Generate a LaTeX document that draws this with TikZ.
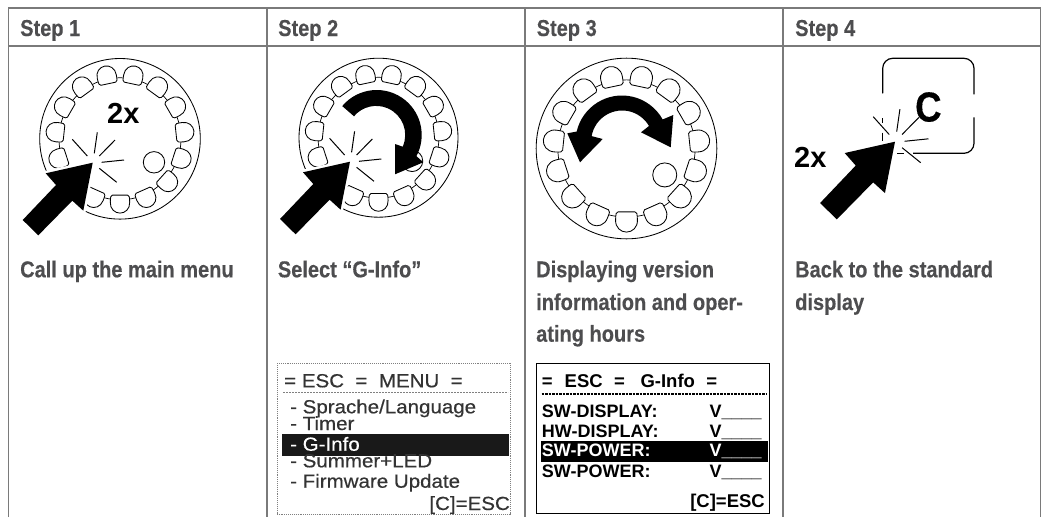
\documentclass[tikz,border=0pt]{standalone}
\usepackage{fontspec}
\setmainfont{Liberation Sans}
\newfontfamily\condfont[FakeStretch=0.87,FakeBold=0.3]{Liberation Sans}
\newfontfamily\widefont[FakeStretch=1.08,FakeBold=0.5]{Liberation Sans}
\definecolor{gridgray}{HTML}{7A7A7A}
\definecolor{headgray}{HTML}{4D4D4F}
\definecolor{menugray}{HTML}{333333}
\tikzset{
  gridline/.style={draw=gridgray,line width=1.3pt},
  heading/.style={anchor=base west,inner sep=0pt,text=headgray,font=\condfont\bfseries\fontsize{23}{25}\selectfont},
  bignum/.style={anchor=base west,inner sep=0pt,text=black,font=\bfseries\fontsize{29}{31}\selectfont},
  menutext/.style={anchor=base west,inner sep=0pt,text=menugray,font=\widefont\fontsize{19}{21}\selectfont},
  infotext/.style={anchor=base west,inner sep=0pt,text=black,font=\bfseries\fontsize{18}{20}\selectfont},
  dialline/.style={draw=black,line width=.85pt},
  raystyle/.style={draw=black,line width=1pt},
}
\newcommand{\dialface}[3]{%
  \begin{scope}[shift={(#1,#2)},scale=#3]
    \draw[dialline] (0,0) circle[radius=80.3];
    \draw[draw=black,line width=.7pt] (0,0) circle[radius=61];
    \foreach \a in {282,306,330,354,18,42,66,90,114,138,162,186,210,234,258}{
      \begin{scope}[shift={(\a:65.3)},rotate={90-\a}]
        \draw[dialline,fill=white] (-7.5,-9) -- (7.5,-9)
          .. controls (9.5,-9) and (9.4,-7) .. (9.7,-2)
          .. controls (10.1,5) and (5,9) .. (0,9)
          .. controls (-5,9) and (-10.1,5) .. (-9.7,-2)
          .. controls (-9.4,-7) and (-9.5,-9) .. (-7.5,-9) -- cycle;
      \end{scope}
    }
    \draw[dialline,fill=white] (34,23.5) circle[radius=10.7];
  \end{scope}}
\newcommand{\clickmark}[3]{%
  \begin{scope}[shift={(#1,#2)},scale=#3]
    \draw[raystyle] (4.6,-30.4) -- (1.6,-9.4);
    \draw[raystyle] (22.3,-22.7) -- (6.6,-6.7);
    \draw[raystyle] (31.3,-2.7) -- (9,-.4);
    \draw[raystyle] (24,19.6) -- (6.6,5.6);
    \draw[raystyle] (-20.4,-23.4) -- (-5.4,-6.7);
    \draw[draw=white,line width=5pt,line join=miter,fill=white] (0,0) -- (-47,10.6) -- (-36.7,22.3) -- (-70,57.3) -- (-54.4,72.6) -- (-20.4,38) -- (-9.4,48) -- cycle;
    \fill[black] (0,0) -- (-47,10.6) -- (-36.7,22.3) -- (-70,57.3) -- (-54.4,72.6) -- (-20.4,38) -- (-9.4,48) -- cycle;
  \end{scope}}
\begin{document}
\begin{tikzpicture}[x=1pt,y=-1pt]
\useasboundingbox (0,0) rectangle (1042,517);
\fill[white] (0,0) rectangle (1042,517);
% grid
\draw[gridline] (8.5,517) -- (8.5,8) -- (1040.7,8) -- (1040.7,517);
\draw[gridline] (8.5,46) -- (1040.7,46);
\foreach \cx in {267,525,783}{\draw[gridline] (\cx,8) -- (\cx,517);}
% headings
\node[heading] (h1) at (20,36) {Step 1};
\node[heading] (h2) at (278,36) {Step 2};
\node[heading] (h3) at (536.5,36) {Step 3};
\node[heading] (h4) at (795,36) {Step 4};
% step 1
\dialface{120}{138.8}{1}
\node[bignum] (twox1) at (107,123) {2x};
\clickmark{92.7}{162.7}{1}
% step 2
\dialface{378.5}{137.7}{.99}
\fill[black] (376.7,135) ++(220:45) arc[start angle=220,end angle=388,radius=45]
  -- (423.3,162.3) -- (395,174.3) -- (395,144) -- (402.7,146.7)
  arc[start angle=384,end angle=220,radius=29] -- cycle;
\clickmark{350}{161.7}{1}
% step 3
\dialface{626.5}{148.5}{1.125}
\fill[black] (622,142) ++(193:46.5) arc[start angle=193,end angle=331,radius=46.5]
  -- (673.3,115) -- (670.7,147.3) -- (641,132.3) -- (649,126)
  arc[start angle=330,end angle=190,radius=31]
  -- (602.7,139) -- (580,162.3) -- (567.3,133.3) -- cycle;
% step 4
\draw[draw=black,line width=1.2pt,line cap=round] (882.7,93) -- (882.7,68.3) arc[start angle=180,end angle=270,radius=10] -- (964,58.3) arc[start angle=270,end angle=360,radius=10] -- (974,94);
\draw[draw=black,line width=1.2pt] (974,117.3) -- (974,143.3) arc[start angle=0,end angle=90,radius=10] -- (913,153.3);
\draw[draw=black,line width=1.2pt] (904,153.3) -- (896.7,153.3);
\draw[draw=black,line width=1.2pt] (882.3,118) -- (882.3,123.3);
\draw[draw=black,line width=1.2pt] (882.3,132.7) -- (882.3,141);
\node[anchor=base west,inner sep=0pt,font=\condfont\bfseries\fontsize{42}{44}\selectfont] (keyC) at (915,121.5) {C};
\node[bignum] (twox4) at (794,167) {2x};
\clickmark{895}{141.7}{1.07}
% captions
\node[heading] (c1) at (20,277.3) {Call up the main menu};
\node[heading] (c2) at (277.7,277.3) {Select “G-Info”};
\node[heading] (c3a) at (536,277.3) {Displaying version};
\node[heading] (c3b) at (536,310) {information and oper-};
\node[heading] (c3c) at (536,341.7) {ating hours};
\node[heading] (c4a) at (795,277.3) {Back to the standard};
\node[heading] (c4b) at (795,310) {display};
% menu screen
\draw[draw=gray,line width=.9pt,densely dotted] (277.3,363.3) rectangle (510.7,514);
\draw[draw=gray,line width=1.2pt,dash pattern=on 2pt off 1pt] (283,392.7) -- (508,392.7);
\fill[black!90] (281.7,434.3) rectangle (509.3,456);
\node[menutext] (m0) at (284,387.3) {=\ ESC\ \ =\ \ MENU\ \ =};
\node[menutext] (m1) at (290,413.3) {- Sprache/Language};
\node[menutext] (m2) at (290,430) {- Timer};
\node[menutext,text=white] (m3) at (290,450.7) {- G-Info};
\node[menutext] (m4) at (290,467.3) {- Summer+LED};
\node[menutext] (m5) at (290,487.7) {- Firmware Update};
\node[menutext,anchor=base east] (m6) at (510,510) {[C]=ESC};
% info screen
\draw[draw=black,line width=1pt] (536,363.3) rectangle (769.3,513.3);
\draw[draw=black,line width=1.2pt,dash pattern=on 2.5pt off 1pt] (541.7,394) -- (767,394);
\fill[black] (540.7,440.7) rectangle (768.3,461.7);
\node[infotext,font=\bfseries\fontsize{18.5}{20}\selectfont] (i0) at (541.7,387.3) {=\hspace{12pt}ESC\hspace{11.5pt}=\hspace{15.5pt}G-Info\hspace{11.5pt}=};
\node[infotext] (i1) at (541.7,417.3) {SW-DISPLAY:};
\node[infotext] (v1) at (709.3,417.3) {V\_\_\_\_};
\node[infotext] (i2) at (541.7,437.3) {HW-DISPLAY:};
\node[infotext] (v2) at (709.3,437.3) {V\_\_\_\_};
\node[infotext,text=white] (i3) at (541.7,456.7) {SW-POWER:};
\node[infotext,text=white] (v3) at (709.3,456.7) {V\_\_\_\_};
\node[infotext] (i4) at (541.7,477.3) {SW-POWER:};
\node[infotext] (v4) at (709.3,477.3) {V\_\_\_\_};
\node[infotext,anchor=base east,font=\bfseries\fontsize{18.5}{20}\selectfont] (i5) at (765,507.3) {[C]=ESC};
\end{tikzpicture}
\end{document}
